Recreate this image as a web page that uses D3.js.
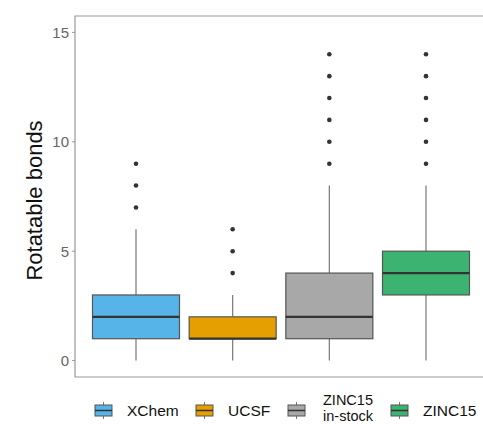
<!DOCTYPE html>
<html>
<head>
  <meta charset="utf-8">
  <title>Rotatable bonds</title>
  <script src="https://d3js.org/d3.v7.min.js"></script>
  <style>
    body { margin: 0; background: #fff; }
    svg { display: block; font-family: "Liberation Sans", Arial, sans-serif; }
  </style>
</head>
<body>
<script>
  // data
  var groups = ["XChem", "UCSF", "ZINC15 in-stock", "ZINC15"];
  var legendLabels = [["XChem"], ["UCSF"], ["ZINC15", "in-stock"], ["ZINC15"]];
  var colors = ["#56B4E9", "#E69F00", "#A8A8A8", "#3CB371"];
  var lowWhisker = [0, 0, 0, 0];
  var q1 = [1, 1, 1, 3];
  var median = [2, 1, 2, 4];
  var q3 = [3, 2, 4, 5];
  var highWhisker = [6, 3, 8, 8];
  var outliers = [[7, 8, 9], [4, 5, 6], [9, 10, 11, 12, 13, 14], [9, 10, 11, 12, 13, 14]];
  var yTicks = [0, 5, 10, 15];

  var W = 483, H = 424;
  var panel = { left: 75, top: 16, right: 484, bottom: 377 };

  var svg = d3.select("body").append("svg")
      .attr("width", W)
      .attr("height", H);

  var y = d3.scaleLinear()
      .domain([-0.75, 15.75])
      .range([panel.bottom, panel.top]);

  // discrete positions 1..n with ggplot style 0.6 expansion
  var x = d3.scaleLinear()
      .domain([0.4, groups.length + 0.6])
      .range([panel.left + 3, panel.right]);
  var boxW = (x(1) - x(0)) * 0.9;

  // panel border (left, top, bottom)
  svg.append("path")
      .attr("d", "M" + panel.right + "," + panel.top + "H" + panel.left + "V" + panel.bottom + "H" + panel.right)
      .attr("fill", "none")
      .attr("stroke", "#999")
      .attr("stroke-width", 1.2);

  // y axis ticks and labels
  var yAxis = svg.append("g");
  yAxis.selectAll("line")
    .data(yTicks).enter().append("line")
      .attr("x1", panel.left - 3).attr("x2", panel.left)
      .attr("y1", function (d) { return y(d); })
      .attr("y2", function (d) { return y(d); })
      .attr("stroke", "#999");
  yAxis.selectAll("text")
    .data(yTicks).enter().append("text")
      .attr("x", panel.left - 6)
      .attr("y", function (d) { return y(d); })
      .attr("dy", "0.36em")
      .attr("text-anchor", "end")
      .attr("fill", "#666")
      .style("font-size", "15px")
      .text(function (d) { return d; });

  svg.append("text")
      .attr("transform", "translate(42," + ((panel.top + panel.bottom) / 2 + 4) + ") rotate(-90)")
      .attr("text-anchor", "middle")
      .attr("fill", "#111")
      .style("font-size", "22px")
      .text("Rotatable bonds");

  // boxes
  var box = svg.selectAll(".box")
    .data(groups).enter().append("g")
      .attr("class", "box");

  box.append("line")
      .attr("x1", function (d, i) { return x(i + 1); })
      .attr("x2", function (d, i) { return x(i + 1); })
      .attr("y1", function (d, i) { return y(q3[i]); })
      .attr("y2", function (d, i) { return y(highWhisker[i]); })
      .attr("stroke", "#777").attr("stroke-width", 1.2);
  box.append("line")
      .attr("x1", function (d, i) { return x(i + 1); })
      .attr("x2", function (d, i) { return x(i + 1); })
      .attr("y1", function (d, i) { return y(q1[i]); })
      .attr("y2", function (d, i) { return y(lowWhisker[i]); })
      .attr("stroke", "#777").attr("stroke-width", 1.2);
  box.append("rect")
      .attr("x", function (d, i) { return x(i + 1) - boxW / 2; })
      .attr("width", boxW)
      .attr("y", function (d, i) { return y(q3[i]); })
      .attr("height", function (d, i) { return y(q1[i]) - y(q3[i]); })
      .attr("fill", function (d, i) { return colors[i]; })
      .attr("stroke", "#555").attr("stroke-width", 1.2);
  box.append("line")
      .attr("x1", function (d, i) { return x(i + 1) - boxW / 2; })
      .attr("x2", function (d, i) { return x(i + 1) + boxW / 2; })
      .attr("y1", function (d, i) { return y(median[i]); })
      .attr("y2", function (d, i) { return y(median[i]); })
      .attr("stroke", "#333").attr("stroke-width", 2.2);
  box.selectAll("circle")
    .data(function (d, i) { return outliers[i].map(function (v) { return { i: i, v: v }; }); })
    .enter().append("circle")
      .attr("cx", function (d) { return x(d.i + 1); })
      .attr("cy", function (d) { return y(d.v); })
      .attr("r", 2.3)
      .attr("fill", "#333");

  // legend
  var legX = [94, 195, 287, 390];
  var legend = svg.selectAll(".leg")
    .data(groups).enter().append("g")
      .attr("class", "leg")
      .attr("transform", function (d, i) { return "translate(" + legX[i] + ",402)"; });
  legend.append("line")
      .attr("x1", 9.5).attr("x2", 9.5).attr("y1", 0).attr("y2", 17)
      .attr("stroke", "#777");
  legend.append("rect")
      .attr("x", 1).attr("y", 3).attr("width", 17).attr("height", 11)
      .attr("fill", function (d, i) { return colors[i]; })
      .attr("stroke", "#555");
  legend.append("line")
      .attr("x1", 1).attr("x2", 18).attr("y1", 8.5).attr("y2", 8.5)
      .attr("stroke", "#333").attr("stroke-width", 1.5);
  legend.each(function (d, i) {
    var lines = legendLabels[i];
    var g = d3.select(this);
    if (lines.length === 1) {
      g.append("text")
          .attr("fill", "#111")
          .style("font-size", "15.5px")
          .attr("x", 33).attr("y", 14).text(lines[0]);
    } else {
      lines.forEach(function (s, k) {
        g.append("text")
            .attr("fill", "#111")
            .attr("text-anchor", "middle")
            .style("font-size", "14.5px")
            .attr("x", 61).attr("y", 3 + k * 16).text(s);
      });
    }
  });
</script>
</body>
</html>
